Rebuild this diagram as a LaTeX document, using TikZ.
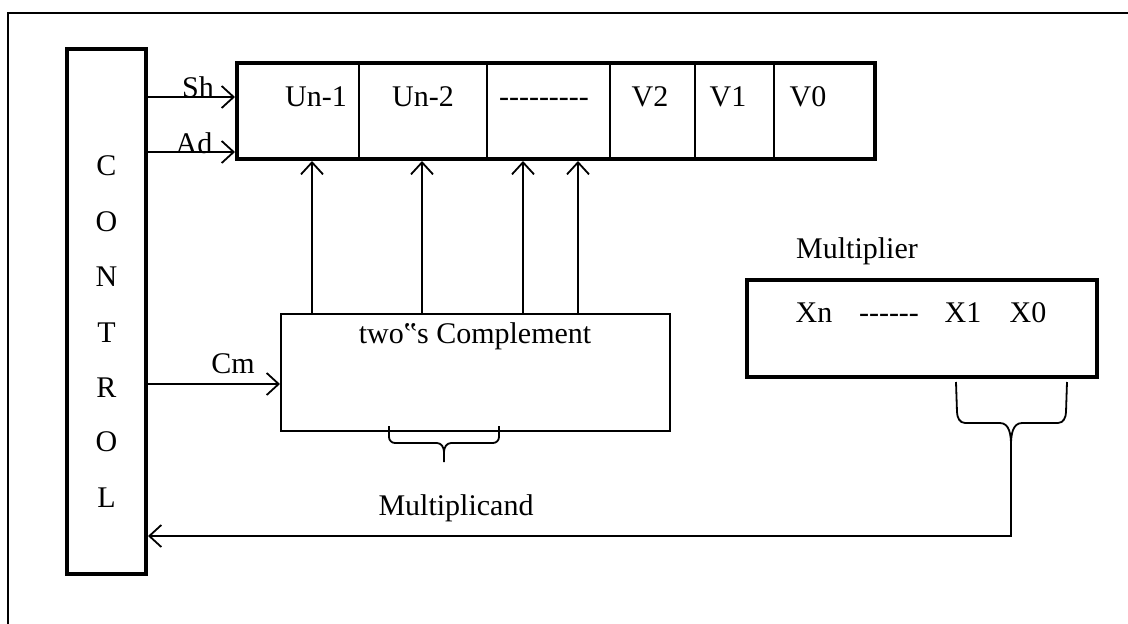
\documentclass[tikz,border=0pt]{standalone}
\usepackage{fontspec}
\setmainfont{Liberation Serif}
\usetikzlibrary{arrows.meta}
% a plain hyphen that is never merged into an en or em dash
\newcommand{\hyph}{-\kern0pt}
\begin{document}
\begin{tikzpicture}[x=1pt,y=-1pt,
  font=\fontsize{30}{36}\selectfont,
  thickbox/.style={draw, line width=4pt, inner sep=0pt},
  thinbox/.style={draw, line width=2pt, inner sep=0pt},
  wire/.style={line width=1.8pt},
  arr/.style={wire, -{Straight Barb[length=12pt,width=22pt,line width=1.8pt]}},
  lbl/.style={inner sep=0pt, anchor=base},
  divider/.style={line width=1.5pt}
]
\useasboundingbox (0,0) rectangle (1128,624);

% frame
\draw[line width=2.5pt] (8,624) -- (8,13) -- (1128,13);

% main blocks
\node[thickbox, minimum width=79pt, minimum height=525pt] (ctrl) at (106.5,311.5) {};
\node[thickbox, minimum width=638pt, minimum height=96pt] (reg) at (556,111) {};
\node[thinbox, minimum width=389pt, minimum height=117pt] (comp) at (475.5,372.5) {};
\node[thickbox, minimum width=350pt, minimum height=97pt] (mult) at (922,328.5) {};

% CONTROL lettering
\foreach \ch/\yb [count=\i] in {C/175,O/231,N/286,T/342,R/397,O/451,L/507}
  \node[lbl] (ctl\i) at (106.5,\yb) {\ch};

% register cells
\foreach \xd [count=\i] in {359,487,610,695,774}
  \draw[divider] (reg.north -| \xd,0) -- (reg.south -| \xd,0);
\node[lbl] (u1) at (316,106) {Un-1};
\node[lbl] (u2) at (423,106) {Un-2};
\node[lbl] (ud) at (544,106) {\hyph\hyph\hyph\hyph\hyph\hyph\hyph\hyph\hyph};
\node[lbl] (v2) at (650,106) {V2};
\node[lbl] (v1) at (728,106) {V1};
\node[lbl] (v0) at (808,106) {V0};

% control signals
\coordinate (sh) at (0,97);
\coordinate (ad) at (0,152);
\coordinate (cm) at (0,384);
\draw[arr] (ctrl.east |- sh) -- (reg.west |- sh);
\draw[arr] (ctrl.east |- ad) -- (reg.west |- ad);
\draw[arr] (ctrl.east |- cm) -- (comp.west |- cm);
\node[lbl] (shl) at (198,97) {Sh};
\node[lbl] (adl) at (194,153) {Ad};
\node[lbl] (cml) at (233,373) {Cm};

% complement outputs to register
\foreach \xa in {312,422,523,578}
  \draw[arr] (comp.north -| \xa,0) -- (reg.south -| \xa,0);
\node[lbl] (compl) at (475,343) {two‟s Complement};

% multiplicand brace
\draw[wire] (389,426) -- (389,437) to[out=-90,in=180] (395,443) -- (437,443)
  to[out=0,in=90] (444,452) -- (444,462);
\draw[wire] (444,452) to[out=90,in=180] (451,443) -- (493,443)
  to[out=0,in=-90] (499,437) -- (499,426);
\node[lbl] (mcand) at (456,515) {Multiplicand};

% multiplier register
\node[lbl] (mplier) at (857,258) {Multiplier};
\node[lbl] (xn) at (814,322) {Xn};
\node[lbl] (xd) at (889,322) {\hyph\hyph\hyph\hyph\hyph\hyph};
\node[lbl] (x1) at (963,322) {X1};
\node[lbl] (x0) at (1028,322) {X0};

% multiplier brace and feedback to control
\draw[wire] (956,382) -- (957,412) to[out=-90,in=180] (965,423) -- (1000,423)
  to[out=0,in=90] (1011,445) -- (1011,463);
\draw[wire] (1011,445) to[out=90,in=180] (1022,423) -- (1058,423)
  to[out=0,in=-90] (1066,412) -- (1067,382);
\coordinate (fb) at (1011,463);
\coordinate (fbc) at (1011,536);
\draw[arr] (fb) -- (fbc) -- (ctrl.east |- fbc);
\end{tikzpicture}
\end{document}
